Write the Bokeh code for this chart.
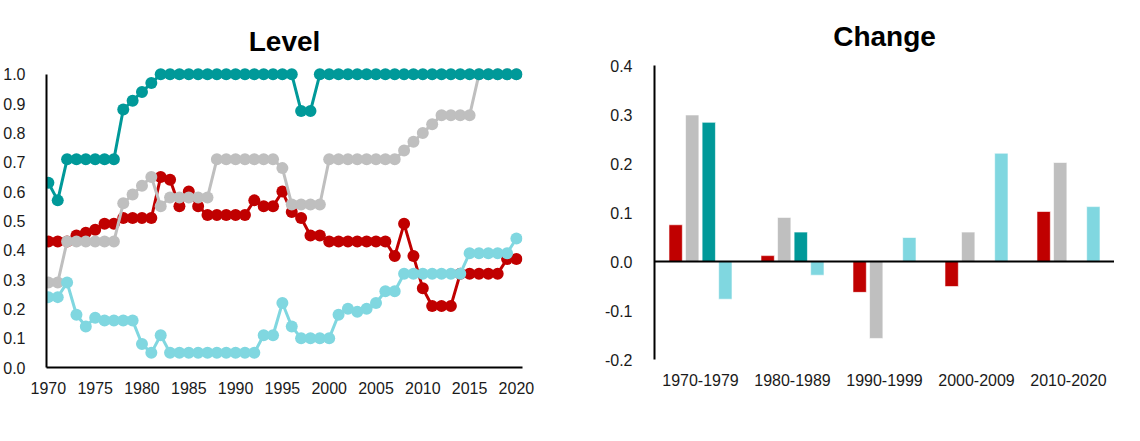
from bokeh.plotting import figure
from bokeh.layouts import row
from bokeh.models import (Range1d, FactorRange, FixedTicker, PrintfTickFormatter,
                          Legend, LegendItem, Span, ColumnDataSource)
from bokeh.transform import dodge
from bokeh.embed import file_html
from bokeh.resources import INLINE

# ---------------- data ----------------
years = list(range(1970, 2021))

ems = [0.43, 0.43, 0.43, 0.45, 0.46, 0.47, 0.49, 0.49, 0.51, 0.51,
       0.51, 0.51, 0.65, 0.64, 0.55, 0.60, 0.55, 0.52, 0.52, 0.52,
       0.52, 0.52, 0.57, 0.55, 0.55, 0.60, 0.53, 0.51, 0.45, 0.45,
       0.43, 0.43, 0.43, 0.43, 0.43, 0.43, 0.43, 0.38, 0.49, 0.38,
       0.27, 0.21, 0.21, 0.21, 0.32, 0.32, 0.32, 0.32, 0.32, 0.37,
       0.37]

aes = [0.29, 0.29, 0.43, 0.43, 0.43, 0.43, 0.43, 0.43, 0.56, 0.59,
       0.62, 0.65, 0.55, 0.58, 0.58, 0.58, 0.58, 0.58, 0.71, 0.71,
       0.71, 0.71, 0.71, 0.71, 0.71, 0.68, 0.556, 0.556, 0.556, 0.556,
       0.71, 0.71, 0.71, 0.71, 0.71, 0.71, 0.71, 0.71, 0.74, 0.77,
       0.80, 0.83, 0.86, 0.86, 0.86, 0.86, 1.0, 1.0, 1.0, 1.0,
       1.0]

ifcs = [0.63, 0.57, 0.71, 0.71, 0.71, 0.71, 0.71, 0.71, 0.88, 0.91,
        0.94, 0.97, 1.0, 1.0, 1.0, 1.0, 1.0, 1.0, 1.0, 1.0,
        1.0, 1.0, 1.0, 1.0, 1.0, 1.0, 1.0, 0.875, 0.875, 1.0,
        1.0, 1.0, 1.0, 1.0, 1.0, 1.0, 1.0, 1.0, 1.0, 1.0,
        1.0, 1.0, 1.0, 1.0, 1.0, 1.0, 1.0, 1.0, 1.0, 1.0,
        1.0]

lidcs = [0.24, 0.24, 0.29, 0.18, 0.14, 0.17, 0.16, 0.16, 0.16, 0.16,
         0.08, 0.05, 0.11, 0.05, 0.05, 0.05, 0.05, 0.05, 0.05, 0.05,
         0.05, 0.05, 0.05, 0.11, 0.11, 0.22, 0.14, 0.10, 0.10, 0.10,
         0.10, 0.18, 0.20, 0.19, 0.20, 0.22, 0.26, 0.26, 0.32, 0.32,
         0.32, 0.32, 0.32, 0.32, 0.32, 0.39, 0.39, 0.39, 0.39, 0.39,
         0.44]

periods = ["1970-1979", "1980-1989", "1990-1999", "2000-2009", "2010-2020"]
ems_chg = [0.075, 0.012, -0.063, -0.051, 0.102]
aes_chg = [0.299, 0.090, -0.157, 0.060, 0.202]
ifcs_chg = [0.284, 0.060, 0.0, 0.0, 0.0]
lidcs_chg = [-0.077, -0.028, 0.049, 0.221, 0.112]

names = ["EMs", "AEs", "IFCs", "LIDCs"]

# ---------------- style ----------------
FONT = "Liberation Sans"
TXT = "#1a1a1a"
colors = ["#C00000", "#BFBFBF", "#009999", "#80D7E0"]


def style_common(p):
    p.outline_line_color = None
    p.grid.grid_line_color = None
    p.title.text_font = FONT
    p.title.text_font_size = "28px"
    p.title.text_font_style = "bold"
    p.title.text_color = "black"
    p.title.align = "center"


def style_axis(ax, standoff):
    ax.axis_line_color = "black"
    ax.axis_line_width = 2
    ax.major_tick_line_color = None
    ax.minor_tick_line_color = None
    ax.major_label_text_font = FONT
    ax.major_label_text_font_size = "16px"
    ax.major_label_text_color = TXT
    ax.major_label_standoff = standoff


# ---------------- Level (left) ----------------
p1 = figure(frame_width=476, frame_height=302, output_backend="svg",
            toolbar_location=None,
            x_range=Range1d(1969.8, 2020.65), y_range=Range1d(0, 1.03),
            min_border_left=42, min_border_right=34, min_border_top=56,
            min_border_bottom=67, title="Level")
style_common(p1)
p1.title.standoff = 18
p1.title.offset = -8

style_axis(p1.yaxis[0], 15)
p1.yaxis[0].bounds = (0, 1)
p1.yaxis[0].ticker = FixedTicker(ticks=[i / 10 for i in range(11)])
p1.yaxis[0].formatter = PrintfTickFormatter(format="%.1f")

style_axis(p1.xaxis[0], 8)
p1.xaxis[0].ticker = FixedTicker(ticks=list(range(1970, 2021, 5)))
p1.xaxis[0].axis_label = " "
p1.xaxis[0].axis_label_text_font_size = "12px"
p1.xaxis[0].axis_label_standoff = 0

level_series = [ems, aes, ifcs, lidcs]
items1 = []
for name, vals, col in zip(names, level_series, colors):
    src = ColumnDataSource(dict(x=years, y=vals))
    ln = p1.line("x", "y", source=src, line_color=col, line_width=3)
    sc = p1.scatter("x", "y", source=src, marker="circle", size=12,
                    fill_color=col, line_color=col, line_width=0)
    items1.append(LegendItem(label=name, renderers=[ln, sc]))

leg1 = Legend(items=items1, orientation="horizontal", location="center",
              glyph_width=55, glyph_height=18, label_height=18,
              label_standoff=3, spacing=22, padding=0, margin=0,
              label_text_font=FONT, label_text_font_size="16px",
              label_text_color=TXT, border_line_color=None,
              background_fill_alpha=0)
p1.add_layout(leg1, "below")

# ---------------- Change (right) ----------------
p2 = figure(frame_width=460, frame_height=294, output_backend="svg",
            toolbar_location=None,
            x_range=FactorRange(*periods), y_range=Range1d(-0.2, 0.4),
            min_border_left=98, min_border_right=0, min_border_top=65,
            min_border_bottom=66, title="Change")
style_common(p2)
p2.title.standoff = 27
p2.title.offset = -3

style_axis(p2.yaxis[0], 16)
p2.yaxis[0].bounds = (-0.2, 0.4)
p2.yaxis[0].ticker = FixedTicker(ticks=[-0.2, -0.1, 0.0, 0.1, 0.2, 0.3, 0.4])
p2.yaxis[0].formatter = PrintfTickFormatter(format="%.1f")

style_axis(p2.xaxis[0], 8)
p2.xaxis[0].axis_line_color = None
p2.xaxis[0].axis_label = " "
p2.xaxis[0].axis_label_text_font_size = "12px"
p2.xaxis[0].axis_label_standoff = 0

src2 = ColumnDataSource(dict(period=periods, EMs=ems_chg, AEs=aes_chg,
                             IFCs=ifcs_chg, LIDCs=lidcs_chg))
offsets = [-0.27, -0.09, 0.09, 0.27]
items2 = []
for name, off, col in zip(names, offsets, colors):
    r = p2.vbar(x=dodge("period", off, range=p2.x_range), top=name, width=0.145,
                source=src2, fill_color=col, line_color="white", line_width=0.6)
    items2.append(LegendItem(label=name, renderers=[r]))

p2.add_layout(Span(location=0, dimension="width", line_color="black", line_width=2))

leg2 = Legend(items=items2, orientation="horizontal", location="center",
              glyph_width=9, glyph_height=9, label_height=18,
              label_standoff=3, spacing=19, padding=0, margin=0,
              label_text_font=FONT, label_text_font_size="16px",
              label_text_color=TXT, border_line_color=None,
              background_fill_alpha=0)
p2.add_layout(leg2, "below")

layout = row(p1, p2)

with open("out.html", "w") as f:
    f.write(file_html(layout, INLINE))
